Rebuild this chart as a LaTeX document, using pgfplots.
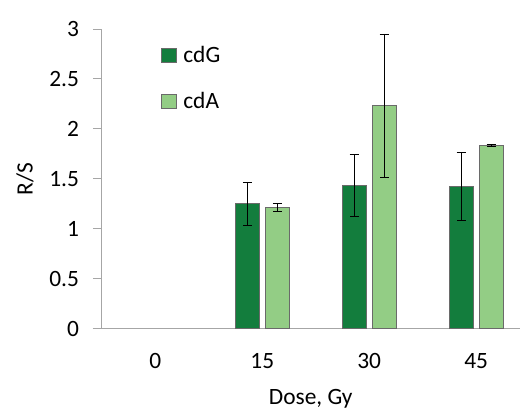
\documentclass[border=0pt]{standalone}
\usepackage{pgfplots}
\pgfplotsset{compat=1.18}
\usepackage{fontspec}
\setmainfont{Carlito}
\definecolor{cdG}{HTML}{137D3D}
\definecolor{cdA}{HTML}{93CD85}
\definecolor{barline}{HTML}{6A6A6A}
\definecolor{axline}{HTML}{A6A6A6}
\newcommand{\cfont}{\fontsize{23.5}{28}\selectfont}
\begin{document}
\cfont
\begin{tikzpicture}
\begin{axis}[
  scale only axis,
  width=418bp, height=300bp,
  xmin=-0.5, xmax=3.406,
  ymin=0, ymax=3,
  ytick={0,0.5,1,1.5,2,2.5,3},
  yticklabels={0,0.5,1,1.5,2,2.5,3},
  xtick={0,1,2,3},
  xticklabels={0,15,30,45},
  axis x line*=bottom,
  axis y line*=left,
  axis line style={axline, line width=0.9pt, -},
  x axis line style={shorten <=-9bp},
  tick align=outside,
  major tick length=9bp,
  xtick style={draw=none},
  ytick style={axline, line width=0.9pt},
  /pgf/number format/assume math mode=true,
  ticklabel style={font=\cfont},
  yticklabel style={xshift=-6bp},
  xticklabel style={yshift=-8bp},
  xlabel={Dose, Gy},
  ylabel={R/S},
  label style={font=\cfont},
  ylabel style={yshift=0bp},
  xlabel style={yshift=-4bp},
  ybar, bar width=24bp,
  legend style={draw=none, fill=none, at={(0.14,0.948)}, anchor=north west,
    row sep=22bp, font=\cfont, inner sep=0pt},
  legend image code/.code={\draw[#1, draw=barline] (0bp,-6bp) rectangle (15bp,8bp);},
  legend cell align=left,
  error bars/error bar style={black, line width=0.6pt},
  error bars/error mark options={rotate=90, mark size=4.5bp, black, line width=0.6pt},
]
\addplot[fill=cdG, draw=barline, line width=0.8pt, bar shift=-15bp,
  error bars/.cd, y dir=both, y explicit]
  coordinates {(1,1.255) +- (0,0.215) (2,1.437) +- (0,0.31) (3,1.423) +- (0,0.34)};
\addlegendentry{\hspace{5bp}cdG}
\addplot[fill=cdA, draw=barline, line width=0.8pt, bar shift=15bp,
  error bars/.cd, y dir=both, y explicit]
  coordinates {(1,1.217) +- (0,0.038) (2,2.235) +- (0,0.715) (3,1.833) +- (0,0.01)};
\addlegendentry{\hspace{5bp}cdA}
\end{axis}
\path[use as bounding box] (current axis.south west) ++(-102bp,-84bp) rectangle ++(520bp,413bp);
\end{tikzpicture}
\end{document}
